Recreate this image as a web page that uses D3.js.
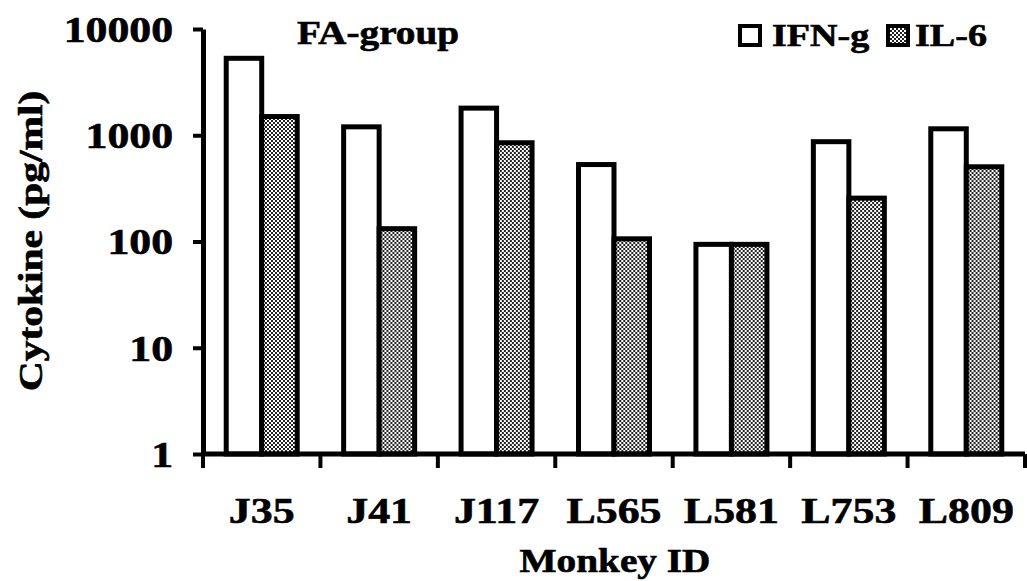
<!DOCTYPE html>
<html>
<head>
<meta charset="utf-8">
<script src="https://cdn.jsdelivr.net/npm/d3@7"></script>
<style>
  html, body { margin: 0; padding: 0; background: #fff; }
  svg { display: block; }
  text { font-family: "Liberation Serif", "Times New Roman", serif; font-weight: bold; fill: #000; stroke: #000; stroke-width: 0.6px; }
</style>
</head>
<body>
<svg id="chart" width="1027" height="581"></svg>
<script>
// Cytokine levels (pg/ml) per monkey, FA group
const monkeys = ["J35", "J41", "J117", "L565", "L581", "L753", "L809"];
const seriesNames = ["IFN-g", "IL-6"];
const ifnG = [5300, 1200, 1800, 530, 94, 870, 1150];
const il6 = [1500, 132, 850, 106, 94, 256, 505];
const yTicks = [1, 10, 100, 1000, 10000];

const STRETCH = 1.19; // text is widened along its reading direction
const svg = d3.select("#chart");

// checkerboard fill for IL-6 bars
const defs = svg.append("defs");
const pat = defs.append("pattern")
  .attr("id", "checker")
  .attr("patternUnits", "userSpaceOnUse")
  .attr("width", 4).attr("height", 4);
pat.append("rect").attr("width", 4).attr("height", 4).attr("fill", "#fff");
pat.append("rect").attr("width", 2).attr("height", 2).attr("fill", "#222");
pat.append("rect").attr("x", 2).attr("y", 2).attr("width", 2).attr("height", 2).attr("fill", "#222");

const x = d3.scaleBand().domain(monkeys).range([203, 1025]);
const xs = d3.scaleBand().domain(seriesNames).range([0, x.bandwidth()]).paddingOuter(0.654);
const y = d3.scaleLog().domain([1, 10000]).range([454, 29]);

const fills = { "IFN-g": "#fff", "IL-6": "url(#checker)" };
const rows = monkeys.map((m, i) => ({ id: m, values: [
  { s: "IFN-g", v: ifnG[i] }, { s: "IL-6", v: il6[i] }
]}));

// bars
const groups = svg.append("g").selectAll("g").data(rows).join("g")
  .attr("transform", d => `translate(${x(d.id)},0)`);
groups.selectAll("rect").data(d => d.values).join("rect")
  .attr("x", d => xs(d.s))
  .attr("width", xs.bandwidth())
  .attr("y", d => y(d.v))
  .attr("height", d => y(1) - y(d.v))
  .attr("fill", d => fills[d.s])
  .attr("stroke", "#000")
  .attr("stroke-width", 5);

// y axis
const yAxis = svg.append("g")
  .attr("transform", "translate(203,0)")
  .call(d3.axisLeft(y).tickValues(yTicks).tickFormat(d3.format("d")).tickSize(10).tickSizeOuter(0));
yAxis.select(".domain").attr("stroke", "#000").attr("stroke-width", 5);
yAxis.selectAll(".tick line").attr("stroke", "#000").attr("stroke-width", 4);
yAxis.selectAll(".tick text")
  .attr("x", -30 / 1.25)
  .attr("dy", "0.35em")
  .attr("transform", "scale(1.25,1)")
  .style("font-size", "35px");

// x axis: line, boundary ticks, category labels
const xAxis = svg.append("g").attr("transform", `translate(0,${y(1)})`);
xAxis.append("line")
  .attr("x1", x.range()[0] - 2).attr("x2", x.range()[1])
  .attr("stroke", "#000").attr("stroke-width", 5);
const bounds = monkeys.map(m => x(m)).concat([x.range()[1]]);
xAxis.selectAll("line.tk").data(bounds).join("line")
  .attr("class", "tk")
  .attr("x1", d => d).attr("x2", d => d)
  .attr("y1", 0).attr("y2", 14)
  .attr("stroke", "#000").attr("stroke-width", 4);
xAxis.selectAll("text").data(monkeys).join("text")
  .attr("transform", d => `translate(${x(d) + x.bandwidth() / 2},69) scale(1.22,1)`)
  .attr("text-anchor", "middle")
  .style("font-size", "36px")
  .text(d => d);

// axis titles
svg.append("text")
  .attr("transform", `translate(615,572) scale(${STRETCH},1)`)
  .attr("text-anchor", "middle")
  .style("font-size", "33px")
  .text("Monkey ID");
svg.append("text")
  .attr("transform", "translate(42,241) rotate(-90) scale(1.22,1)")
  .attr("text-anchor", "middle")
  .style("font-size", "34px")
  .text("Cytokine (pg/ml)");

// panel title
svg.append("text")
  .attr("transform", `translate(297,44) scale(${STRETCH},1)`)
  .style("font-size", "33px")
  .text("FA-group");

// legend
const legend = svg.append("g");
const legendItems = [
  { s: "IFN-g", box: 738, text: 772 },
  { s: "IL-6", box: 886, text: 915 }
];
legend.selectAll("rect").data(legendItems).join("rect")
  .attr("x", d => d.box + 2).attr("y", 26)
  .attr("width", 20).attr("height", 19)
  .attr("fill", d => fills[d.s])
  .attr("stroke", "#000").attr("stroke-width", 4);
legend.selectAll("text").data(legendItems).join("text")
  .attr("transform", d => `translate(${d.text},46) scale(${STRETCH},1)`)
  .style("font-size", "32px")
  .text(d => d.s);
</script>
</body>
</html>
